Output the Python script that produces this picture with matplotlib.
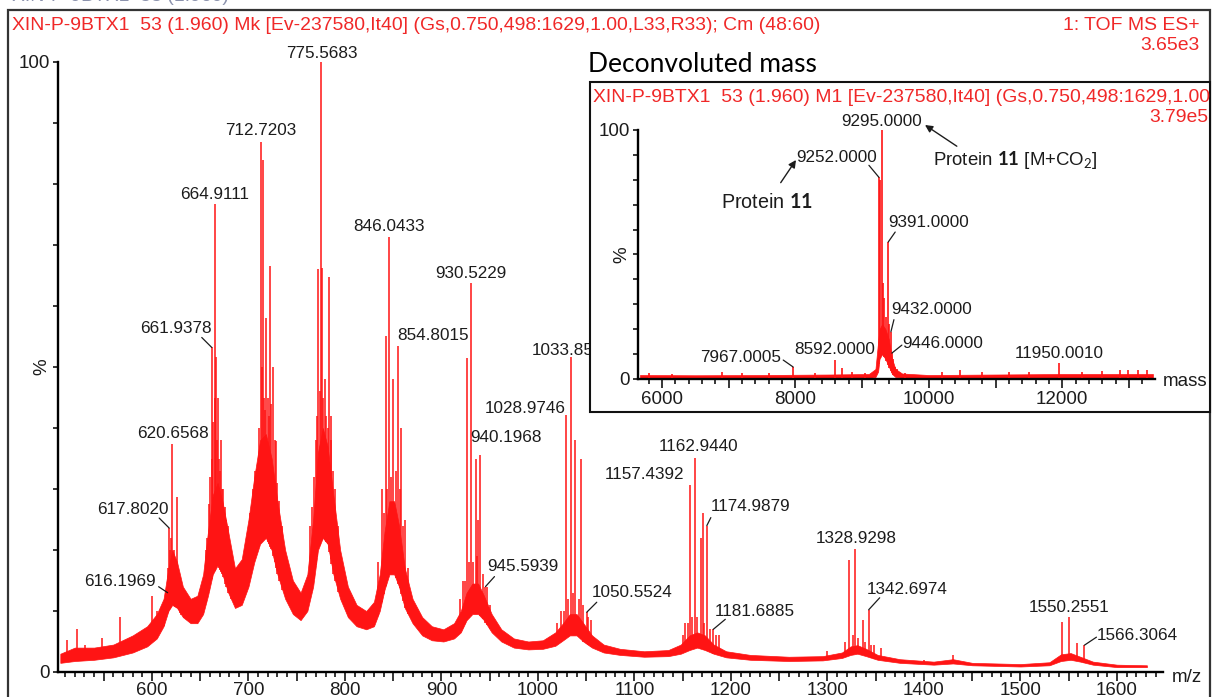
import numpy as np
import matplotlib
matplotlib.use("Agg")
import matplotlib.pyplot as plt
from matplotlib.patches import Rectangle
from matplotlib.ticker import FixedLocator, MultipleLocator

plt.rcParams['font.family'] = ['Liberation Sans', 'DejaVu Sans']
plt.rcParams['mathtext.fontset'] = 'custom'
plt.rcParams['mathtext.rm'] = 'Lato'
plt.rcParams['mathtext.bf'] = 'Lato:bold'
plt.rcParams['mathtext.it'] = 'Lato:italic'

RED = '#ff1414'
TXT_RED = '#f02828'
INK = '#1c1c1c'

# ---------------- m/z spectrum ----------------
# noisy band of the raw trace: anchor m/z, lower and upper edge (%)
band_mz = [505, 520, 540, 560, 580, 595, 605, 612, 617, 621, 626, 632, 640, 647, 653,
           658, 663, 668, 673, 679, 686, 693, 700, 706, 712, 718, 724, 730, 738, 746,
           754, 761, 767, 772, 777, 782, 788, 795, 803, 812, 822, 830, 836, 841, 846,
           851, 856, 862, 870, 880, 890, 902, 913, 920, 926, 932, 938, 944, 952, 962,
           975, 990, 1005, 1018, 1026, 1033, 1040, 1047, 1056, 1068, 1085, 1110, 1135,
           1148, 1157, 1165, 1173, 1182, 1195, 1220, 1260, 1295, 1315, 1324, 1331, 1340,
           1352, 1375, 1410, 1430, 1450, 1500, 1530, 1542, 1552, 1562, 1575, 1600, 1631]
band_lo = [1.5, 1.8, 2.0, 2.4, 3.2, 4.2, 5.5, 7.5, 10, 11, 10.5, 9, 8, 8, 9.5,
           12.5, 16, 17.5, 16, 13, 10.5, 11, 14, 18, 21, 22, 20, 16, 12, 9.5,
           8.5, 10, 14, 20, 22, 21, 16, 12, 9, 7.5, 7, 7.5, 10, 13.5, 16,
           16, 14, 10.5, 8, 6, 5.2, 5, 5.5, 6.5, 8.5, 9.5, 9.5, 8.5, 6.5, 5,
           4, 3.7, 3.8, 4.3, 5.2, 6, 6, 5, 4, 3.2, 2.8, 2.5, 2.6,
           3.0, 3.6, 4, 3.6, 3.0, 2.4, 2.0, 1.8, 1.9, 2.3, 2.8, 3, 2.6,
           2.0, 1.5, 1.2, 1.4, 1.1, 0.9, 1.1, 1.8, 2.0, 1.7, 1.2, 0.8, 0.8]
band_hi = [3.0, 4.0, 4.0, 4.5, 6.0, 7.5, 9.5, 12, 17, 20, 18, 14, 12, 12.5, 16,
           23, 29, 31, 28, 23, 17, 18.5, 25, 32, 38, 39, 35, 28, 20, 15,
           13, 16, 25, 36, 40, 37, 29, 20, 14, 11, 10, 11.5, 16, 23, 28,
           28, 24, 17, 12, 9, 7.5, 7, 8, 10, 13, 14.5, 14.5, 12.5, 9.5, 7,
           5.5, 5.0, 5.2, 6.5, 8, 9.5, 9.5, 8, 6, 4.5, 3.8, 3.4, 3.6,
           4.5, 6.0, 6.5, 6.0, 4.5, 3.4, 2.8, 2.5, 2.6, 3.2, 4.2, 4.4, 3.8,
           2.8, 2.1, 1.7, 2.1, 1.5, 1.3, 1.6, 2.9, 3.1, 2.5, 1.7, 1.2, 1.1]

# unlabelled spectral lines (m/z, relative intensity %)
line_mz = [512, 522, 531, 548, 567, 583, 600, 605, 612,
           614, 616.9, 618.6, 619.4, 621.9, 623, 624, 625, 626.3, 627.6, 629, 630.5, 633, 636,
           656, 657.5, 659, 660.5, 662.5, 663.4, 665.8, 666.7, 667.5, 668.5, 669.5, 670.5,
           671.8, 673, 674, 676, 677, 679, 682,
           702, 705, 707, 709, 711, 714, 715.4, 716.5, 717.2, 718.2, 720, 721, 722.4,
           723.5, 725.5, 727, 728.5, 730, 732, 735,
           764, 766, 768, 770, 771, 772.5, 774, 776.3, 777.5, 779, 780.5, 782, 783.6,
           785, 786, 788, 790, 793,
           834, 838, 840, 842.1, 844, 848, 850, 852.5, 856.5, 858, 860, 862, 865,
           919, 922, 924, 926.2, 928, 933, 935.5, 937, 938, 943, 947, 950,
           1020, 1024, 1027, 1031, 1036, 1038.6, 1042, 1044.4, 1047, 1052, 1055,
           1150, 1152, 1155, 1160, 1165, 1168.5, 1170.5, 1172, 1178, 1184, 1187.5,
           1300, 1318, 1322.7, 1326, 1332, 1336.5, 1339, 1345, 1348, 1355, 1400, 1430,
           1543.2, 1558.2]
line_int = [5.3, 7.0, 4.5, 5.6, 9.0, 6.0, 12.5, 10, 11,
            12, 17, 20, 22, 18, 20, 16, 17, 28.7, 15, 14, 13, 12, 11,
            20, 22, 27.6, 32, 35, 41, 45, 51.6, 38, 45, 35, 33,
            38, 30, 30, 27, 25, 24, 20,
            26, 30, 33, 30, 40, 50, 84, 45, 43, 58, 45, 42, 66.5,
            44, 50, 38, 37.8, 31, 28, 24,
            24, 27, 32, 38, 42, 66, 46, 66.3, 45, 48, 42, 40, 64.7,
            38, 42, 33, 30, 24,
            18, 30, 26, 55, 30, 32, 48, 33, 30, 40, 24, 25, 17,
            12, 15, 15, 51.5, 18, 18, 35, 19, 25, 16, 14, 11,
            8, 10, 10, 12, 13, 38, 12, 35, 11, 9, 8.5,
            6, 8, 8, 9, 9, 22, 26, 8, 7, 6, 6.1,
            3.5, 5, 18.4, 6, 5.5, 8.5, 5, 4.5, 4.5, 4, 2, 2.8,
            8.2, 4.8]

# labelled peaks: the label text is the peak position
peak_txt = ['616.1969', '617.8020', '620.6568', '661.9378', '664.9111', '712.7203',
            '775.5683', '846.0433', '854.8015', '930.5229', '940.1968', '945.5939',
            '1028.9746', '1033.85', '1050.5524', '1157.4392', '1162.9440', '1174.9879',
            '1181.6885', '1328.9298', '1342.6974', '1550.2551', '1566.3064']
peak_int = [13, 23.6, 37.4, 53.2, 76.7, 86.9,
            100, 71.3, 53.5, 63.7, 35.5, 14,
            42.2, 51.6, 9.8, 30.7, 35.1, 24,
            7, 20.2, 10.2, 9, 4.4]

# ---------------- deconvoluted spectrum ----------------
ib_mass = [5670, 6500, 7500, 8500, 9100, 9200, 9240, 9260, 9300, 9350, 9400, 9450,
           9500, 9600, 10000, 11000, 12000, 13000, 13360]
ib_lo = [0.3, 0.3, 0.3, 0.3, 0.4, 0.8, 3, 8, 10, 8, 5, 2, 0.8, 0.5, 0.3, 0.3, 0.4, 0.4, 0.4]
ib_hi = [1.6, 1.5, 1.6, 1.8, 2.0, 4, 15, 20, 22, 20, 16, 8, 4, 2.2, 1.6, 1.8, 2.0, 2.0, 2.0]

iline_mass = [5800, 6150, 6900, 7200, 7600, 8300, 8700, 8850, 9050,
              9270, 9310, 9330, 9360, 9410, 9470, 9490, 9520, 9560,
              9650, 10200, 10470, 10800, 11200, 11500, 12300, 12600,
              12870, 12990, 13140, 13270]
iline_int = [2.5, 2.2, 2.8, 2.3, 2.4, 2.6, 4.4, 3.0, 2.5,
             80, 38.6, 32.5, 25, 22, 8, 5, 4, 3,
             2.6, 2.8, 3.6, 3.0, 2.8, 3.0, 3.0, 3.2,
             3.6, 3.6, 3.6, 3.6]

ipeak_txt = ['7967.0005', '8592.0000', '9252.0000', '9295.0000', '9391.0000',
             '9432.0000', '9446.0000', '11950.0010']
ipeak_int = [4.8, 7.6, 81, 100, 55, 19, 10.4, 6.4]

# ---------------- layout helpers (pixel based) ----------------
W, H = 1213, 697
fig = plt.figure(figsize=(W / 100, H / 100), dpi=100)
renderer = fig.canvas.get_renderer()


def box(x0, y0, x1, y1):
    return [x0 / W, 1 - y1 / H, (x1 - x0) / W, (y1 - y0) / H]


def fit(t, width_px):
    w = t.get_window_extent(renderer).width
    t.set_fontsize(t.get_fontsize() * width_px / w)
    return t


def px(v):
    return v * 72 / 100


def style_axes(ax, xpad):
    for s in ('top', 'right'):
        ax.spines[s].set_visible(False)
    for s in ('left', 'bottom'):
        ax.spines[s].set_linewidth(1.7)
        ax.spines[s].set_color('black')
    ax.set_facecolor('none')
    ax.tick_params(which='both', direction='out', color='black', width=1.1,
                   labelsize=13.5, labelcolor=INK)
    ax.tick_params(which='major', length=px(9))
    ax.tick_params(which='minor', length=px(5))
    ax.tick_params(axis='x', pad=xpad)
    ax.tick_params(axis='y', which='major', length=px(5), pad=2)


def label_peaks(ax, texts, heights, offs, leads, size):
    for t, h, o, l in zip(texts, heights, offs, leads):
        x = float(t)
        ax.annotate(t, xy=(x, h), xytext=(px(o[0]), px(o[1])), textcoords='offset points',
                    ha='center', va='center', fontsize=size, color=INK,
                    annotation_clip=False, zorder=5)
        if l is not None:
            ax.annotate('', xy=(x, h), xytext=(px(l[0]), px(l[1])), textcoords='offset points',
                        annotation_clip=False,
                        arrowprops=dict(arrowstyle='-', color=INK, lw=0.9,
                                        shrinkA=0, shrinkB=0))


# label size from the widest-known label
probe = fig.text(0, 0, '775.5683', fontsize=12)
fit(probe, 71)
LAB = probe.get_fontsize()
probe.remove()

# ---------------- main panel ----------------
ax = fig.add_axes(box(58, 62, 1163, 672))
ax.set_xlim(502.6, 1647.7)
ax.set_ylim(0, 100)
style_axes(ax, xpad=0.5)

ax.fill_between(band_mz, band_lo, band_hi, color=RED, lw=0.5, zorder=2)
pk_mz = [float(t) for t in peak_txt]
all_mz = np.array(line_mz + pk_mz)
all_int = np.array(line_int + peak_int)
ax.vlines(all_mz, np.interp(all_mz, band_mz, band_lo), all_int, color=RED, lw=1.1,
          zorder=3, clip_on=False)

ax.xaxis.set_major_locator(FixedLocator(np.arange(550, 1601, 50)))
ax.xaxis.set_minor_locator(MultipleLocator(10))
ax.set_xticklabels([str(v) if v % 100 == 0 else '' for v in range(550, 1601, 50)])
ax.set_yticks(np.arange(0, 101, 10))
ylabs = ['0', '', '', '', '', '%', '', '', '', '', '100']
ax.set_yticklabels(ylabs)
ax.get_yticklabels()[5].set_rotation(90)
ax.get_yticklabels()[5].set_va('center')

peak_off = [(-48, 11), (-36, 19), (1, 10), (-36, 19), (0, 10), (0, 11),
            (0, 9), (0, 11), (35, 10), (0, 10), (26, 18), (37, 20),
            (-41, 6), (-8, 7), (45, 20), (-45, 10), (3, 11), (44, 19),
            (41, 18), (1, 10), (39, 20), (0, 10), (53, 10)]
peak_lead = [(-9, 6), (-10, 10), None, (-10, 10), None, None,
             None, None, None, None, None, (9, 10),
             None, None, (10, 10), None, None, (4, 8),
             (12, 10), None, (11, 12), None, (12, 8)]
label_peaks(ax, peak_txt, peak_int, peak_off, peak_lead, LAB)
fig.text(1172 / W, 1 - 677 / H, 'm/z', fontsize=13.5, color=INK, va='center')

# ---------------- header ----------------
hdr = fig.text(11.5 / W, 1 - 25 / H,
               'XIN-P-9BTX1  53 (1.960) Mk [Ev-237580,It40] (Gs,0.750,498:1629,1.00,L33,R33); Cm (48:60)',
               fontsize=11, color=TXT_RED, va='center')
fit(hdr, 806)
HDR = hdr.get_fontsize()
fig.text(1200 / W, 1 - 25 / H, '1: TOF MS ES+', fontsize=HDR, color=TXT_RED, ha='right', va='center')
fig.text(1200 / W, 1 - 46 / H, '3.65e3', fontsize=HDR, color=TXT_RED, ha='right', va='center')
fig.text(11.5 / W, 1 + 3 / H, 'XIN-P-9BTX1  53 (1.960)', fontsize=HDR, color='#8c93ad', va='center')

# outer frame
fig.patches.append(Rectangle((8 / W, -0.02), (1210 - 8) / W, 1.02 - 10 / H,
                             transform=fig.transFigure, fill=False, lw=1.6, ec='#333333',
                             zorder=1))

# ---------------- inset: deconvoluted mass ----------------
frame = Rectangle((590 / W, 1 - 412 / H), (1210 - 590) / W, (412 - 82) / H,
                  transform=fig.transFigure, fc='white', ec='#111111', lw=1.5, zorder=1)
fig.patches.append(frame)
dm = fig.text(588 / W, 1 - 64 / H, 'Deconvoluted mass', family='Lato', fontsize=15,
              color='black', va='center')
fit(dm, 229)

ihdr = fig.text(593 / W, 1 - 97 / H,
                'XIN-P-9BTX1  53 (1.960) M1 [Ev-237580,It40] (Gs,0.750,498:1629,1.00,L33,R33)',
                fontsize=HDR, color=TXT_RED, va='center', zorder=3)
ihdr.set_clip_path(frame)
fig.text(1208 / W, 1 - 118 / H, '3.79e5', fontsize=HDR, color=TXT_RED, ha='right',
         va='center', zorder=3)

iax = fig.add_axes(box(638, 130, 1155, 379), zorder=2)
iax.set_xlim(5640, 13391)
iax.set_ylim(0, 100)
style_axes(iax, xpad=2)
iax.fill_between(ib_mass, ib_lo, ib_hi, color=RED, lw=0.5, zorder=2)
ipk = [float(t) for t in ipeak_txt]
im = np.array(iline_mass + ipk)
ii = np.array(iline_int + ipeak_int)
iax.vlines(im, np.interp(im, ib_mass, ib_lo), ii, color=RED, lw=1.2, zorder=3, clip_on=False)

iax.xaxis.set_major_locator(FixedLocator(np.arange(6000, 13001, 1000)))
iax.xaxis.set_minor_locator(MultipleLocator(200))
iax.set_xticklabels([str(v) if v % 2000 == 0 else '' for v in range(6000, 13001, 1000)])
iax.set_yticks(np.arange(0, 101, 10))
iax.set_yticklabels(ylabs)
iax.get_yticklabels()[5].set_rotation(90)
iax.get_yticklabels()[5].set_va('center')

ipeak_off = [(-53, 10), (0, 11), (-42, 20), (0, 8), (40, 20), (41, 22), (51, 10), (0, 10)]
ipeak_lead = [(-10, 7), None, (-10, 12), None, (7, 10), (3, 12), (10, 8), None]
label_peaks(iax, ipeak_txt, ipeak_int, ipeak_off, ipeak_lead, LAB)
fig.text(1163 / W, 1 - 381 / H, 'mass', fontsize=13.5, color=INK, va='center', zorder=3)

# species annotations
p1 = iax.annotate(r'Protein $\mathbf{11}$', xy=(796, H - 160), xycoords='figure pixels',
                  xytext=(767, H - 203), textcoords='figure pixels', ha='center', va='center',
                  fontsize=13, color=INK, annotation_clip=False,
                  arrowprops=dict(arrowstyle='-|>', color=INK, lw=1.0, mutation_scale=11,
                                  shrinkA=7, shrinkB=0))
p2 = iax.annotate(r'Protein $\mathbf{11}$ [M+CO$_2$]', xy=(925, H - 125), xycoords='figure pixels',
                  xytext=(933, H - 160), textcoords='figure pixels', ha='left', va='center',
                  fontsize=13, color=INK, annotation_clip=False,
                  arrowprops=dict(arrowstyle='-|>', color=INK, lw=1.0, mutation_scale=11,
                                  shrinkA=0, shrinkB=0, relpos=(0.17, 1.0)))
fit(p1, 92)
fit(p2, 172)

fig.savefig('out.png', dpi=100)
